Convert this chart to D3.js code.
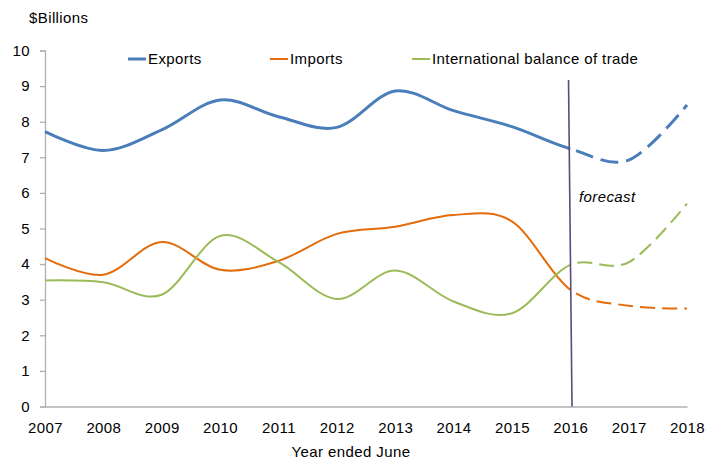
<!DOCTYPE html>
<html>
<head>
<meta charset="utf-8">
<script src="https://cdn.jsdelivr.net/npm/d3@7"></script>
<style>
  body { margin: 0; background: #fff; }
  text { font-family: "Liberation Sans", Arial, sans-serif; font-size: 15px; letter-spacing: 0.4px; fill: #000; }
</style>
</head>
<body>
<div id="chart"></div>
<script>
// chart values
const years = [2007, 2008, 2009, 2010, 2011, 2012, 2013, 2014, 2015, 2016, 2017, 2018];
const exportsData = [7.72, 7.19, 7.77, 8.61, 8.14, 7.84, 8.86, 8.31, 7.86, 7.24, 6.92, 8.47];
const importsData = [4.17, 3.70, 4.62, 3.84, 4.09, 4.85, 5.05, 5.38, 5.20, 3.28, 2.83, 2.75];
const balanceData = [3.54, 3.49, 3.14, 4.79, 4.06, 3.02, 3.82, 2.95, 2.62, 3.98, 4.05, 5.70];
const forecastFrom = 2016;
const forecastLine = [[2015.97, 9.17], [2016.03, 0]];
const yTicks = [0, 1, 2, 3, 4, 5, 6, 7, 8, 9, 10];

const series = [
  { name: "Exports", values: exportsData, color: "#4a7ebb", width: 3, dash: "18,8" },
  { name: "Imports", values: importsData, color: "#e46c0a", width: 2, dash: "15,7" },
  { name: "International balance of trade", values: balanceData, color: "#9bbb59", width: 2, dash: "15,7" }
];

const width = 707, height = 463;

const x = d3.scaleLinear().domain([2007, 2018]).range([45, 687]);
const y = d3.scaleLinear().domain([0, 10]).range([406.5, 50.5]);

const svg = d3.select("#chart").append("svg")
  .attr("width", width)
  .attr("height", height);

// clip regions: actual (solid) and forecast (dashed)
const defs = svg.append("defs");
defs.append("clipPath").attr("id", "clipActual")
  .append("rect").attr("x", 0).attr("y", 0)
  .attr("width", x(forecastFrom)).attr("height", height);
defs.append("clipPath").attr("id", "clipForecast")
  .append("rect").attr("x", x(forecastFrom)).attr("y", 0)
  .attr("width", width - x(forecastFrom)).attr("height", height);

// axes
const yAxis = d3.axisLeft(y).tickValues(yTicks).tickSize(5).tickPadding(10);
const yg = svg.append("g").attr("transform", `translate(${x(2007)},0)`).call(yAxis);

const xAxis = d3.axisBottom(x).tickValues(years).tickFormat(d3.format("d")).tickSize(0).tickPadding(16);
const xg = svg.append("g").attr("transform", `translate(0,${y(0)})`).call(xAxis);

[yg, xg].forEach(g => {
  g.selectAll("path, line").attr("stroke", "#b0b0b0").attr("stroke-width", 1.3);
  g.selectAll("text").attr("font-size", null).attr("font-family", null);
  g.attr("font-size", null).attr("font-family", null);
});

const line = d3.line()
  .x((d, i) => x(years[i]))
  .y(d => y(d))
  .curve(d3.curveCardinal.tension(0));

series.forEach(s => {
  svg.append("path")
    .attr("d", line(s.values))
    .attr("fill", "none")
    .attr("stroke", s.color)
    .attr("stroke-width", s.width)
    .attr("clip-path", "url(#clipActual)");
  svg.append("path")
    .attr("d", line(s.values))
    .attr("fill", "none")
    .attr("stroke", s.color)
    .attr("stroke-width", s.width)
    .attr("stroke-dasharray", s.dash)
    .attr("clip-path", "url(#clipForecast)");
});

// forecast marker
svg.append("line")
  .attr("x1", x(forecastLine[0][0])).attr("y1", y(forecastLine[0][1]))
  .attr("x2", x(forecastLine[1][0])).attr("y2", y(forecastLine[1][1]))
  .attr("stroke", "#604a7b")
  .attr("stroke-width", 1.6);

svg.append("text")
  .attr("x", 579)
  .attr("y", 202)
  .attr("font-style", "italic")
  .text("forecast");

// legend
const legendX = [128, 270, 412];
series.forEach((s, i) => {
  svg.append("line")
    .attr("x1", legendX[i]).attr("x2", legendX[i] + 18)
    .attr("y1", 59).attr("y2", 59)
    .attr("stroke", s.color)
    .attr("stroke-width", s.width);
  svg.append("text")
    .attr("x", legendX[i] + 20)
    .attr("y", 64)
    .text(s.name);
});

// titles
svg.append("text").attr("x", 29).attr("y", 23).text("$Billions");
svg.append("text").attr("x", 351).attr("y", 457).attr("text-anchor", "middle").text("Year ended June");
</script>
</body>
</html>
